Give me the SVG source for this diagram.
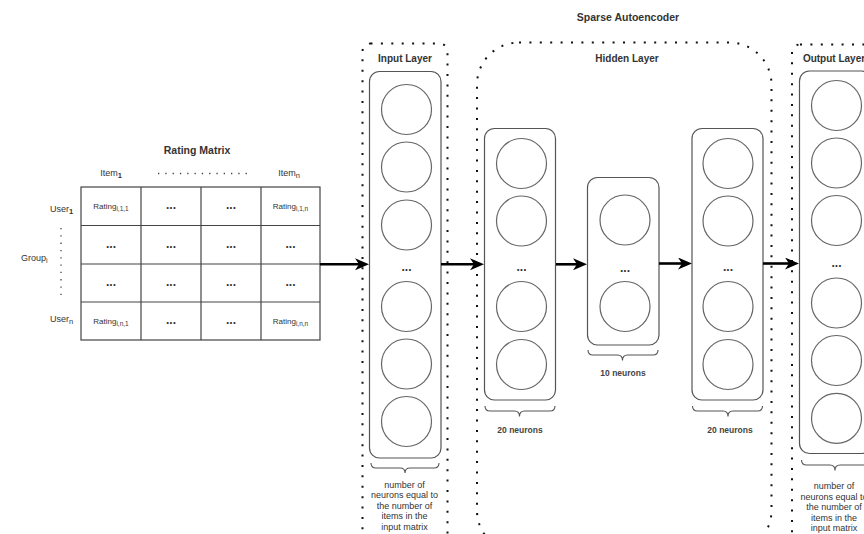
<svg xmlns="http://www.w3.org/2000/svg" width="864" height="534" viewBox="0 0 864 534">
  <defs>
    <style>
      .t { font-family: "Liberation Sans", Arial, sans-serif; fill: #333; }
      .title { font-size: 10.5px; font-weight: bold; text-anchor: middle; }
      .layer { font-size: 10px; font-weight: bold; text-anchor: middle; }
      .lbl { font-size: 9px; }
      .cell { font-size: 8px; text-anchor: middle; }
      .ell { font-size: 12px; font-weight: bold; text-anchor: middle; }
      .cnt { font-size: 8.5px; font-weight: bold; text-anchor: middle; fill: #444; }
      .note { font-size: 9px; text-anchor: middle; }
      .grid { fill: #fff; stroke: #444; stroke-width: 1.2; }
      .dotted { fill: none; stroke: #111; stroke-width: 2; stroke-dasharray: 2 8.4; }
      .col { fill: #fff; stroke: #555; stroke-width: 1.2; }
      .neuron { fill: #fff; stroke: #666; stroke-width: 1.2; }
      .brace { fill: none; stroke: #555; stroke-width: 1.1; }
      .flow { fill: none; stroke: #000; stroke-width: 2.6; }
      .dots { fill: none; stroke: #444; stroke-width: 1.3; stroke-dasharray: 1.3 6; }
    </style>
    <marker id="head" viewBox="0 0 14 12" refX="4" refY="6" markerWidth="14" markerHeight="12" markerUnits="userSpaceOnUse" orient="auto">
      <path d="M0,0 L14,6 L0,12 L4,6 Z" fill="#000"/>
    </marker>
  </defs>

  <rect width="864" height="534" fill="#fff"/>

  <!-- Rating matrix -->
  <g id="rating-matrix">
    <text class="t title" x="197" y="154">Rating Matrix</text>
    <text class="t lbl" x="111" y="176" text-anchor="middle">Item<tspan dy="2" font-size="7.5" font-weight="bold">1</tspan></text>
    <text class="t lbl" x="289" y="176" text-anchor="middle">Item<tspan dy="2" font-size="7.5">n</tspan></text>
    <line class="dots" x1="158" y1="173.5" x2="248" y2="173.5"/>
    <text class="t lbl" x="50" y="212">User<tspan dy="2" font-size="7.5" font-weight="bold">1</tspan></text>
    <text class="t lbl" x="50" y="322">User<tspan dy="2" font-size="7.5">n</tspan></text>
    <text class="t lbl" x="21" y="261">Group<tspan dy="2" font-size="7">i</tspan></text>
    <line class="dots" x1="61" y1="228" x2="61" y2="295" stroke-dasharray="1.3 5.9"/>

    <rect class="grid" x="81" y="187" width="239" height="153"/>
    <line class="grid" x1="141" y1="187" x2="141" y2="340"/>
    <line class="grid" x1="201" y1="187" x2="201" y2="340"/>
    <line class="grid" x1="261" y1="187" x2="261" y2="340"/>
    <line class="grid" x1="81" y1="225.5" x2="320" y2="225.5"/>
    <line class="grid" x1="81" y1="264" x2="320" y2="264"/>
    <line class="grid" x1="81" y1="302" x2="320" y2="302"/>

    <text class="t cell" x="111" y="209">Rating<tspan dy="2" font-size="6.5">i,1,1</tspan></text>
    <text class="t ell" x="171" y="209">...</text>
    <text class="t ell" x="231" y="209">...</text>
    <text class="t cell" x="290.5" y="209">Rating<tspan dy="2" font-size="6.5">i,1,n</tspan></text>

    <text class="t ell" x="111" y="248">...</text>
    <text class="t ell" x="171" y="248">...</text>
    <text class="t ell" x="231" y="248">...</text>
    <text class="t ell" x="290.5" y="248">...</text>

    <text class="t ell" x="111" y="286">...</text>
    <text class="t ell" x="171" y="286">...</text>
    <text class="t ell" x="231" y="286">...</text>
    <text class="t ell" x="290.5" y="286">...</text>

    <text class="t cell" x="111" y="324">Rating<tspan dy="2" font-size="6.5">i,n,1</tspan></text>
    <text class="t ell" x="171" y="324">...</text>
    <text class="t ell" x="231" y="324">...</text>
    <text class="t cell" x="290.5" y="324">Rating<tspan dy="2" font-size="6.5">i,n,n</tspan></text>
  </g>

  <!-- Input layer -->
  <g id="input-layer">
    <rect class="dotted" x="362.5" y="43.5" width="85" height="500" rx="8"/>
    <text class="t layer" x="405" y="62">Input Layer</text>
    <rect class="col" x="369.5" y="71.5" width="71.5" height="386.5" rx="10"/>
    <circle class="neuron" cx="406.5" cy="109.5" r="25"/>
    <circle class="neuron" cx="406.5" cy="167" r="25"/>
    <circle class="neuron" cx="406.5" cy="225" r="25"/>
    <text class="t ell" x="406.5" y="271">...</text>
    <circle class="neuron" cx="406.5" cy="306.5" r="25"/>
    <circle class="neuron" cx="406.5" cy="364" r="25"/>
    <circle class="neuron" cx="406.5" cy="421.5" r="25"/>
    <path class="brace" d="M371,463 Q371,468 376,468 L400,468 Q405,468 405,473 Q405,468 410,468 L434,468 Q439,468 439,463"/>
    <text class="t note" x="404.5" y="487.5">number of</text>
    <text class="t note" x="404.5" y="498">neurons equal to</text>
    <text class="t note" x="404.5" y="508.5">the number of</text>
    <text class="t note" x="404.5" y="519">items in the</text>
    <text class="t note" x="404.5" y="529.5">input matrix</text>
  </g>

  <!-- Sparse autoencoder hidden layer -->
  <g id="hidden-layer">
    <text class="t title" x="628" y="21">Sparse Autoencoder</text>
    <rect class="dotted" x="477" y="42.5" width="294.5" height="510" rx="42"/>
    <text class="t layer" x="627" y="62">Hidden Layer</text>
  </g>

  <g id="hidden-encoder">
    <rect class="col" x="484.5" y="128.5" width="71" height="271.5" rx="10"/>
    <circle class="neuron" cx="521.5" cy="163.5" r="25"/>
    <circle class="neuron" cx="521.5" cy="221" r="25"/>
    <text class="t ell" x="521.5" y="270.5">...</text>
    <circle class="neuron" cx="521.5" cy="306.5" r="25"/>
    <circle class="neuron" cx="521.5" cy="364.5" r="25"/>
    <path class="brace" d="M485,406 Q485,411 490,411 L514.5,411 Q519.5,411 519.5,416.5 Q519.5,411 524.5,411 L550,411 Q555,411 555,406"/>
    <text class="t cnt" x="520" y="433">20 neurons</text>
  </g>

  <g id="hidden-bottleneck">
    <rect class="col" x="587.5" y="177.5" width="71.5" height="167.5" rx="10"/>
    <circle class="neuron" cx="625" cy="220" r="25"/>
    <text class="t ell" x="625" y="271.5">...</text>
    <circle class="neuron" cx="625" cy="306.5" r="25"/>
    <path class="brace" d="M588,350 Q588,355 593,355 L617.5,355 Q622.5,355 622.5,360.5 Q622.5,355 627.5,355 L653,355 Q658,355 658,350"/>
    <text class="t cnt" x="623" y="376">10 neurons</text>
  </g>

  <g id="hidden-decoder">
    <rect class="col" x="692" y="128.5" width="71" height="271.5" rx="10"/>
    <circle class="neuron" cx="728" cy="163.5" r="25"/>
    <circle class="neuron" cx="728" cy="221" r="25"/>
    <text class="t ell" x="728" y="270.5">...</text>
    <circle class="neuron" cx="728" cy="306.5" r="25"/>
    <circle class="neuron" cx="728" cy="364.5" r="25"/>
    <path class="brace" d="M692.5,406 Q692.5,411 697.5,411 L723,411 Q728,411 728,416.5 Q728,411 733,411 L757.5,411 Q762.5,411 762.5,406"/>
    <text class="t cnt" x="730" y="433">20 neurons</text>
  </g>

  <!-- Output layer -->
  <g id="output-layer">
    <rect class="dotted" x="792" y="44.5" width="86" height="500" rx="8"/>
    <text class="t layer" x="834" y="62">Output Layer</text>
    <rect class="col" x="799.5" y="71" width="72" height="382.5" rx="10"/>
    <circle class="neuron" cx="836.5" cy="105.5" r="25"/>
    <circle class="neuron" cx="836.5" cy="163" r="25"/>
    <circle class="neuron" cx="836.5" cy="220.5" r="25"/>
    <text class="t ell" x="836.5" y="267">...</text>
    <circle class="neuron" cx="836.5" cy="303" r="25"/>
    <circle class="neuron" cx="836.5" cy="360.5" r="25"/>
    <circle class="neuron" cx="836.5" cy="418.3" r="25"/>
    <path class="brace" d="M801.5,460 Q801.5,465 806.5,465 L830,465 Q835,465 835,470.5 Q835,465 840,465 L864,465 Q869,465 869,460"/>
    <text class="t note" x="834" y="489">number of</text>
    <text class="t note" x="834" y="499.5">neurons equal to</text>
    <text class="t note" x="834" y="510">the number of</text>
    <text class="t note" x="834" y="520.5">items in the</text>
    <text class="t note" x="834" y="531">input matrix</text>
  </g>

  <!-- Data flow -->
  <g id="connectors">
    <line class="flow" x1="320" y1="264.3" x2="359" y2="264.3" marker-end="url(#head)"/>
    <line class="flow" x1="441" y1="264.3" x2="474" y2="264.3" marker-end="url(#head)"/>
    <line class="flow" x1="556" y1="264.3" x2="577" y2="264.3" marker-end="url(#head)"/>
    <line class="flow" x1="659" y1="263.5" x2="682" y2="263.5" marker-end="url(#head)"/>
    <line class="flow" x1="763" y1="263.5" x2="789" y2="263.5" marker-end="url(#head)"/>
  </g>
</svg>
